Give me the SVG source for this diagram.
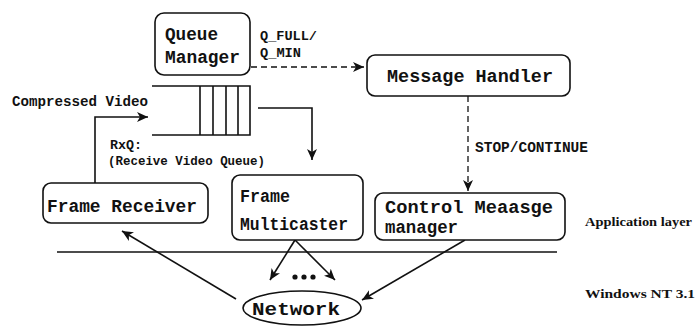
<svg xmlns="http://www.w3.org/2000/svg" width="696" height="326" viewBox="0 0 696 326">
<defs>
<marker id="ah" markerUnits="userSpaceOnUse" markerWidth="12" markerHeight="10" refX="11" refY="5" orient="auto">
<path d="M0,0 L11,5 L0,10 L3,5 Z" fill="#111"/>
</marker>
<style>
.box{fill:#fff;stroke:#111;stroke-width:1.6}
.ln{fill:none;stroke:#111;stroke-width:1.6}
.dash{fill:none;stroke:#111;stroke-width:1.3;stroke-dasharray:6 4}
.t{font-family:"Liberation Mono",monospace;font-size:18px;fill:#111;font-weight:bold}
.s{font-family:"Liberation Mono",monospace;font-size:13px;fill:#111;font-weight:bold}
.r{font-family:"Liberation Serif",serif;font-size:13px;fill:#111;font-weight:bold}
</style>
</defs>
<rect width="696" height="326" fill="#fff"/>
<g id="connectors">
<path class="dash" d="M251,67 H364" marker-end="url(#ah)"/>
<path class="dash" d="M468,96 V191" marker-end="url(#ah)"/>
<path class="ln" d="M95,183 V117 H148" marker-end="url(#ah)"/>
<path class="ln" d="M258,108 H312 V160" marker-end="url(#ah)"/>
<path class="ln" d="M295,240 L270,280" marker-end="url(#ah)"/>
<path class="ln" d="M295,240 L335,280" marker-end="url(#ah)"/>
<path class="ln" d="M236,299 L122,231" marker-end="url(#ah)"/>
<path class="ln" d="M465,240 L362,300" marker-end="url(#ah)"/>
<circle cx="295" cy="277" r="2.6" fill="#111"/>
<circle cx="304" cy="277" r="2.6" fill="#111"/>
<circle cx="313" cy="277" r="2.6" fill="#111"/>
<text class="s" x="260" y="40" textLength="57" lengthAdjust="spacingAndGlyphs">Q_FULL/</text>
<text class="s" x="260" y="57" textLength="41" lengthAdjust="spacingAndGlyphs">Q_MIN</text>
<text class="s" x="475" y="152" textLength="113" lengthAdjust="spacingAndGlyphs" style="font-size:14px">STOP/CONTINUE</text>
<text class="s" x="12" y="106" textLength="136" lengthAdjust="spacingAndGlyphs" style="font-size:14px">Compressed Video</text>
</g>
<g id="layers">
<line class="ln" x1="57" y1="252" x2="557" y2="252"/>
<text class="r" x="585" y="226" textLength="107" lengthAdjust="spacingAndGlyphs">Application layer</text>
<text class="r" x="585" y="298" textLength="110" lengthAdjust="spacingAndGlyphs">Windows  NT 3.1</text>
</g>
<g id="queue-manager">
<rect class="box" x="155" y="13" width="95" height="62" rx="9"/>
<text class="t" x="165" y="40" textLength="53" lengthAdjust="spacingAndGlyphs">Queue</text>
<text class="t" x="165" y="63" textLength="75" lengthAdjust="spacingAndGlyphs">Manager</text>
</g>
<g id="message-handler">
<rect class="box" x="367" y="55" width="203" height="41" rx="8"/>
<text class="t" x="387" y="82" textLength="166" lengthAdjust="spacingAndGlyphs">Message Handler</text>
</g>
<g id="rxq">
<path class="ln" d="M152,86 H250 V135 H152 M200,86 V135 M213,86 V135 M226,86 V135 M238,86 V135"/>
<text class="s" x="110" y="149" textLength="32" lengthAdjust="spacingAndGlyphs">RxQ:</text>
<text class="s" x="108" y="165" textLength="157" lengthAdjust="spacingAndGlyphs">(Receive Video Queue)</text>
</g>
<g id="frame-receiver">
<rect class="box" x="43" y="183" width="165" height="40" rx="8"/>
<text class="t" x="47" y="212" textLength="150" lengthAdjust="spacingAndGlyphs">Frame Receiver</text>
</g>
<g id="frame-multicaster">
<rect class="box" x="232" y="175" width="131" height="65" rx="8"/>
<text class="t" x="240" y="202" textLength="50" lengthAdjust="spacingAndGlyphs">Frame</text>
<text class="t" x="240" y="230" textLength="108" lengthAdjust="spacingAndGlyphs">Multicaster</text>
</g>
<g id="control-message-manager">
<rect class="box" x="375" y="193" width="190" height="47" rx="8"/>
<text class="t" x="385" y="213" textLength="168" lengthAdjust="spacingAndGlyphs">Control Meaasge</text>
<text class="t" x="385" y="233" textLength="73" lengthAdjust="spacingAndGlyphs">manager</text>
</g>
<g id="network">
<ellipse class="box" cx="302" cy="308" rx="59" ry="17"/>
<text class="t" x="252" y="315" textLength="88" lengthAdjust="spacingAndGlyphs">Network</text>
</g>
</svg>
